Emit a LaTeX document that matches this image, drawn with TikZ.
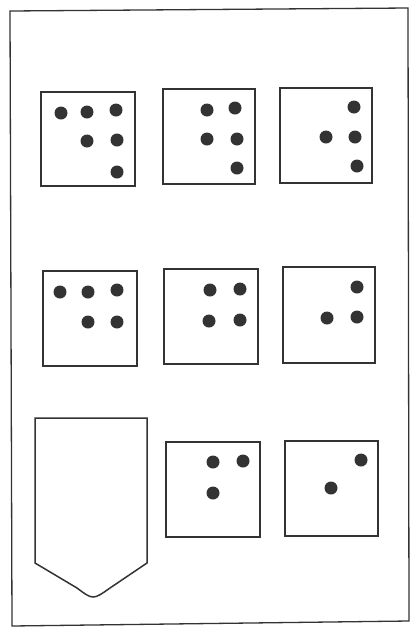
\documentclass[tikz,border=0pt]{standalone}
\definecolor{ink}{HTML}{333333}
\begin{document}
\begin{tikzpicture}[x=1pt,y=-1pt,
  frame/.style={draw=ink,line width=1.3pt},
  card/.style={draw=ink,line width=1.5pt},
  pip/.style={fill=ink,draw=none}]
\useasboundingbox[fill=white] (0,0) rectangle (412,630);
% outer frame
\draw[frame] (10,11) -- (408,8) -- (409,621) -- (12,626) -- cycle;
% row 1
\draw[card] (41,92) rectangle (135,186);
\foreach \p in {(61,113),(87,112),(116,110),(87,141),(117,140),(117,172)} \fill[pip] \p circle (6.5);
\draw[card] (163,89) rectangle (255,184);
\foreach \p in {(207,110),(235,108),(207,139),(237,139),(237,168)} \fill[pip] \p circle (6.5);
\draw[card] (280,88) rectangle (372,183);
\foreach \p in {(354,107),(326,137),(355,137),(357,166)} \fill[pip] \p circle (6.5);
% row 2
\draw[card] (43,271) rectangle (137,366);
\foreach \p in {(60,292),(88,292),(117,290),(88,322),(117,322)} \fill[pip] \p circle (6.5);
\draw[card] (164,269) rectangle (258,364);
\foreach \p in {(210,290),(240,289),(209,321),(240,320)} \fill[pip] \p circle (6.5);
\draw[card] (283,267) rectangle (375,363);
\foreach \p in {(357,287),(327,318),(357,317)} \fill[pip] \p circle (6.5);
% row 3
\draw[card] (35,418) -- (147,418) -- (147,563) -- (110,588) .. controls (93,600) .. (77,588) -- (35,563) -- cycle;
\draw[card] (166,442) rectangle (260,537);
\foreach \p in {(213,462),(243,461),(213,493)} \fill[pip] \p circle (6.5);
\draw[card] (285,441) rectangle (378,536);
\foreach \p in {(361,460),(331,488)} \fill[pip] \p circle (6.5);
\end{tikzpicture}
\end{document}
